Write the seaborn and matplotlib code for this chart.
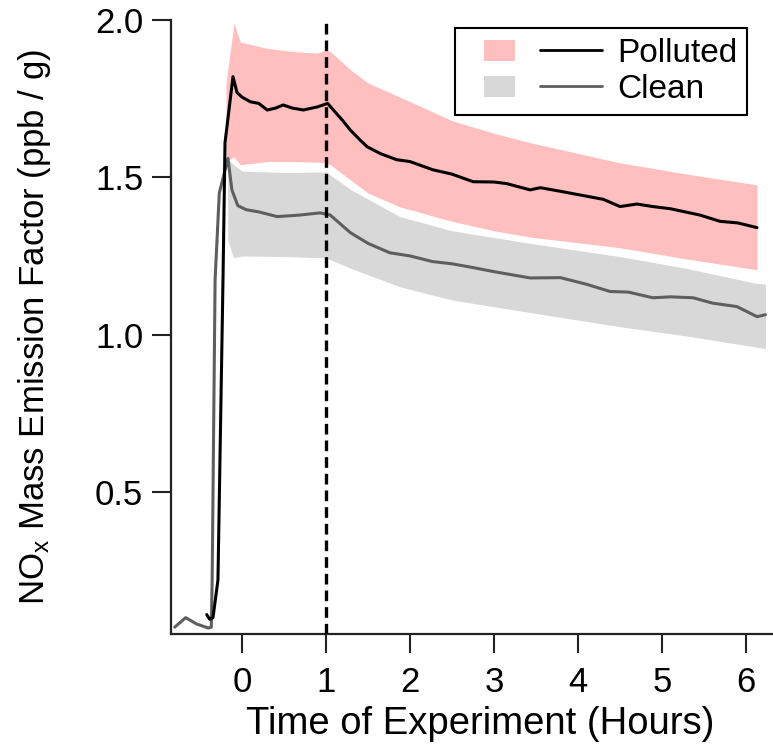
import matplotlib
matplotlib.use("Agg")
import matplotlib.pyplot as plt
import seaborn as sns
import numpy as np
import pandas as pd
from matplotlib.legend_handler import HandlerBase
from matplotlib.patches import Rectangle, Patch
from matplotlib.lines import Line2D

# ---------------- data ----------------
t_pol = [-0.42, -0.385, -0.345, -0.286, -0.226, -0.202, -0.107, -0.06, 0.0, 0.1, 0.2, 0.3, 0.4,
         0.49, 0.6, 0.73, 0.9, 1.02, 1.1, 1.2, 1.29, 1.4, 1.49, 1.65, 1.84, 2.0, 2.27, 2.5, 2.75,
         3.0, 3.15, 3.43, 3.55, 3.8, 4.1, 4.3, 4.5, 4.7, 4.89, 5.1, 5.45, 5.69, 5.9, 6.13]
v_pol = [0.11, 0.095, 0.10, 0.22, 1.175, 1.61, 1.82, 1.77, 1.755, 1.74, 1.735, 1.714, 1.72,
         1.73, 1.72, 1.714, 1.724, 1.735, 1.71, 1.68, 1.65, 1.62, 1.597, 1.575, 1.556, 1.55, 1.524,
         1.51, 1.486, 1.485, 1.48, 1.46, 1.467, 1.455, 1.44, 1.43, 1.407, 1.415, 1.407, 1.40, 1.38,
         1.36, 1.355, 1.34]

t_cln = [-0.80, -0.67, -0.54, -0.40, -0.365, -0.355, -0.32, -0.27, -0.167, -0.12, -0.05, 0.05,
         0.2, 0.42, 0.69, 0.93, 1.05, 1.29, 1.5, 1.76, 2.0, 2.27, 2.5, 2.75, 3.0, 3.43, 3.79, 4.1,
         4.38, 4.6, 4.89, 5.1, 5.37, 5.6, 5.89, 6.13, 6.23]
v_cln = [0.07, 0.10, 0.08, 0.067, 0.07, 0.22, 1.175, 1.45, 1.56, 1.46, 1.41, 1.397,
         1.39, 1.375, 1.38, 1.387, 1.38, 1.324, 1.29, 1.26, 1.25, 1.232, 1.225, 1.213, 1.2, 1.18,
         1.181, 1.16, 1.137, 1.135, 1.117, 1.12, 1.117, 1.10, 1.089, 1.057, 1.063]

t_pol_band = [-0.19, -0.095, -0.02, 0.3, 0.6, 0.9, 1.0, 1.05, 1.3, 1.5, 1.88, 2.5, 3.0, 3.43,
              4.5, 5.3, 6.13]
pol_hi = [1.80, 1.99, 1.93, 1.91, 1.90, 1.895, 1.905, 1.90, 1.84, 1.80, 1.755, 1.68, 1.64, 1.61,
          1.546, 1.51, 1.476]
pol_lo = [1.55, 1.565, 1.54, 1.55, 1.55, 1.548, 1.546, 1.54, 1.49, 1.45, 1.406, 1.36, 1.33, 1.31,
          1.276, 1.24, 1.206]

t_cln_band = [-0.17, -0.1, 0.0, 0.5, 1.0, 1.3, 1.88, 2.5, 3.43, 4.5, 5.3, 6.08, 6.23]
cln_hi = [1.56, 1.54, 1.52, 1.515, 1.517, 1.46, 1.375, 1.33, 1.29, 1.248, 1.21, 1.165, 1.16]
cln_lo = [1.30, 1.244, 1.25, 1.248, 1.244, 1.21, 1.152, 1.11, 1.07, 1.025, 0.995, 0.962, 0.955]

x_ticks = [0, 1, 2, 3, 4, 5, 6]
y_ticks = [0.5, 1.0, 1.5, 2.0]
series_labels = ["Polluted", "Clean"]
marker_time = 1.0

# ---------------- style ----------------
sns.set_style("ticks")
plt.rcParams['font.family'] = ['Liberation Sans', 'DejaVu Sans']
plt.rcParams['mathtext.fontset'] = 'custom'
plt.rcParams['mathtext.rm'] = 'Liberation Sans'
plt.rcParams['mathtext.it'] = 'Liberation Sans'
for k in ['text.color', 'axes.labelcolor', 'xtick.color', 'ytick.color']:
    plt.rcParams[k] = 'black'

PINK = '#FFBFBF'
LGRAY = '#D8D8D8'
BLACK = '#000000'
DGRAY = '#5E5E5E'

fig = plt.figure(figsize=(7.73, 7.53), dpi=100)
ax = fig.add_axes([0.2212, 0.1580, 0.7788, 0.8154])

ax.fill_between(t_pol_band, pol_lo, pol_hi, color=PINK, lw=0, zorder=1)
ax.fill_between(t_cln_band, cln_lo, cln_hi, color=LGRAY, lw=0, zorder=1)

df_pol = pd.DataFrame({"t": t_pol, "v": v_pol})
df_cln = pd.DataFrame({"t": t_cln, "v": v_cln})
sns.lineplot(data=df_cln, x="t", y="v", color=DGRAY, lw=2.2, ax=ax, zorder=3)
sns.lineplot(data=df_pol, x="t", y="v", color=BLACK, lw=2.2, ax=ax, zorder=4)

ax.axvline(marker_time, color='black', lw=2.4, ls=(0, (3.2, 1.8)), zorder=5)

ax.set_xlim(-0.845, 6.32)
ax.set_ylim(0.048, 2.0)
ax.set_xticks(x_ticks)
ax.set_yticks(y_ticks)
ax.set_yticklabels([f"{v:.1f}" for v in y_ticks])

for s in ['top', 'right']:
    ax.spines[s].set_visible(False)
for s in ['left', 'bottom']:
    ax.spines[s].set_linewidth(1.6)
    ax.spines[s].set_color('#222222')

ax.tick_params(axis='both', length=14, width=1.5, color='#222222', labelcolor='black',
               labelsize=25)
ax.tick_params(axis='x', pad=9)
ax.tick_params(axis='y', pad=6)

ax.set_xlabel("Time of Experiment (Hours)", fontsize=27.5, labelpad=6)
ax.xaxis.set_label_coords(0.513, -0.118)
ax.set_ylabel("NO$_\\mathrm{x}$ Mass Emission Factor (ppb / g)", fontsize=25, labelpad=30)


class PatchLineHandler(HandlerBase):
    def create_artists(self, legend, orig_handle, xdescent, ydescent, width, height,
                       fontsize, trans):
        patch, line = orig_handle
        x0 = -xdescent
        y0 = -ydescent
        ph = height * 0.9
        rect = Rectangle((x0 + width * 0.14, y0 + (height - ph) / 2), width * 0.225, ph,
                         facecolor=patch.get_facecolor(), edgecolor='none', transform=trans)
        ln = Line2D([x0 + width * 0.55, x0 + width], [y0 + height / 2, y0 + height / 2],
                    color=line.get_color(), lw=line.get_linewidth(), transform=trans)
        return [rect, ln]


handles = [(Patch(facecolor=PINK), Line2D([], [], color=BLACK, lw=2.0)),
           (Patch(facecolor=LGRAY), Line2D([], [], color=DGRAY, lw=2.0))]
leg = ax.legend(handles, series_labels, handler_map={tuple: PatchLineHandler()},
                loc='upper right', bbox_to_anchor=(0.957, 0.987), borderaxespad=0,
                fontsize=24, handlelength=4.1, handletextpad=0.45, labelspacing=0.15,
                borderpad=0.3, fancybox=False, framealpha=1, edgecolor='black')
leg.get_frame().set_linewidth(1.5)

fig.savefig("out.png", dpi=100)
